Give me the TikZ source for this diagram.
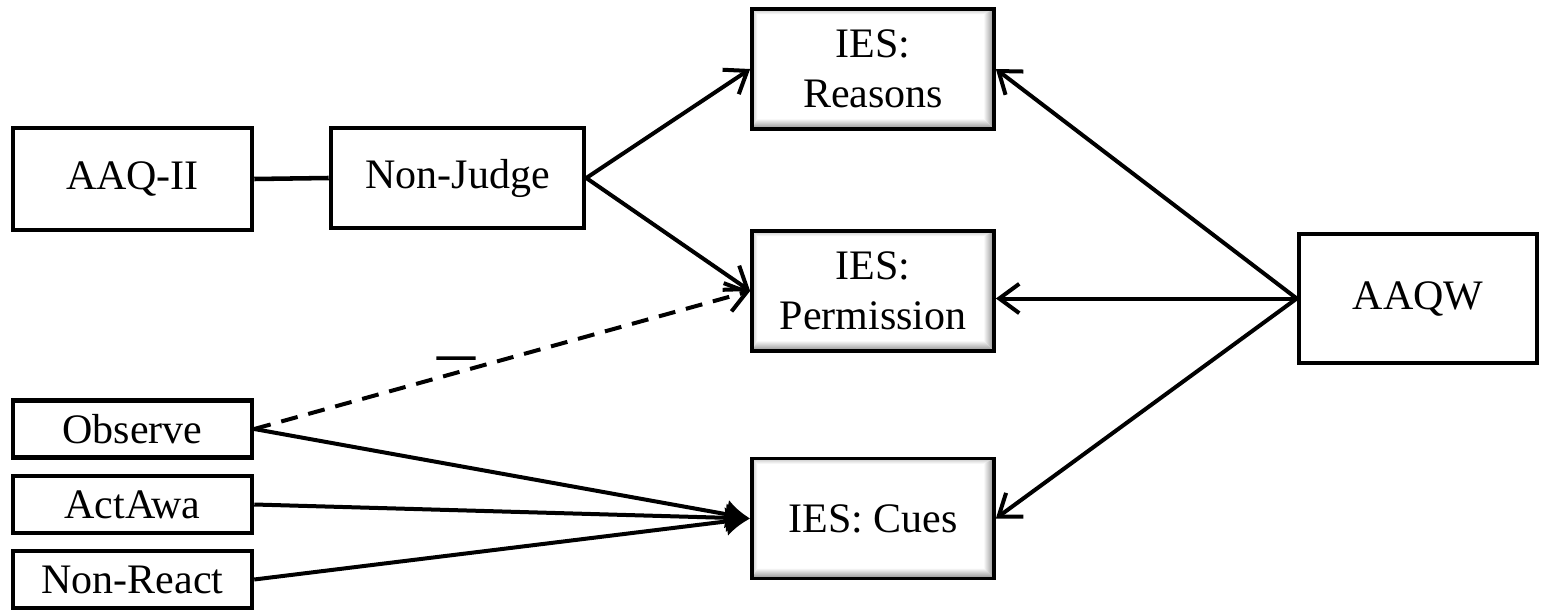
\documentclass[tikz,border=0pt]{standalone}
\usepackage{fontspec}
\setmainfont{Liberation Serif}
\newfontfamily\signfont[FakeBold=4]{Liberation Serif}
\usetikzlibrary{arrows.meta}

\begin{document}
\begin{tikzpicture}[x=0.75pt,y=-0.75pt,
  box/.style={draw=black, line width=3.4pt, rectangle, fill=white, inner sep=0pt,
    align=center, font=\fontsize{31.5}{37.5}\selectfont},
  % bevelled box: light inner edge at top/left, darker gradient at bottom/right
  bevel/.style={path picture={
    \coordinate (bsw) at (path picture bounding box.south west);
    \coordinate (bne) at (path picture bounding box.north east);
    \coordinate (bnw) at (path picture bounding box.north west);
    \coordinate (bse) at (path picture bounding box.south east);
    \shade[top color=black!22, bottom color=white]
      (bnw) -- (bne) -- ([xshift=-8pt,yshift=-4pt]bne) -- ([xshift=4pt,yshift=-4pt]bnw) -- cycle;
    \shade[left color=black!22, right color=white]
      (bnw) -- ([xshift=4pt,yshift=-4pt]bnw) -- ([xshift=4pt,yshift=8pt]bsw) -- (bsw) -- cycle;
    \shade[left color=white, right color=black!45]
      ([xshift=-8pt,yshift=-4pt]bne) -- (bne) -- (bse) -- ([xshift=-8pt,yshift=8pt]bse) -- cycle;
    \shade[top color=white, bottom color=black!45]
      ([xshift=4pt,yshift=8pt]bsw) -- (bsw) -- (bse) -- ([xshift=-8pt,yshift=8pt]bse) -- cycle;
  }},
  ies/.style={box, line width=2.8pt, bevel, minimum width=242pt*0.75, minimum height=120pt*0.75},
  small/.style={box, minimum width=239pt*0.75, minimum height=57pt*0.75},
  link/.style={line width=3pt},
  open/.style={link, -{Straight Barb[length=15pt,width=22pt]}},
  filled/.style={link, -{Latex[length=18pt,width=22pt]}},
  neglink/.style={open, dash pattern=on 12.75pt off 8.25pt}
]
\useasboundingbox (0,0) rectangle (1546,613);

% predictors on the left
\node[box, minimum width=239pt*0.75, minimum height=102pt*0.75] (aaq) at (132.5,179) {AAQ-II};
\node[box, minimum width=253pt*0.75, minimum height=100pt*0.75] (nj) at (457.5,178) {Non-Judge};
\node[small] (obs) at (132.5,429) {Observe};
\node[small] (act) at (132.5,504.5) {ActAwa};
\node[small] (nr) at (132.5,579.5) {Non-React};

% outcome boxes
\node[ies] (rea) at (873,69) {IES:\\Reasons};
\node[ies] (perm) at (873,291) {IES:\\Permission};
\node[ies] (cues) at (873,518.5) {IES: Cues};

% covariate on the right
\node[box, minimum width=238pt*0.75, minimum height=129pt*0.75] (aaqw) at (1418,298.5) {AAQW};

% sign of the negative path
\node[inner sep=0pt, font=\fontsize{28}{30}\signfont] (neg) at (456,362) {—};

% connectors
\draw[link, line width=3.4pt] (aaq.east) -- (nj.east -| nj.west);
\draw[open] (nj.east) -- (rea.west);
\draw[open] (nj.east) -- (perm.west);
\draw[neglink] (obs.east) -- (perm.west);
\draw[filled] (obs.east) -- (cues.west);
\draw[filled] (act.east) -- (cues.west);
\draw[filled] (nr.east) -- (cues.west);
\draw[open] (aaqw.west) -- (rea.east);
\draw[open] (aaqw.west) -- (aaqw.west -| perm.east);
\draw[open] (aaqw.west) -- (cues.east);
\end{tikzpicture}
\end{document}
